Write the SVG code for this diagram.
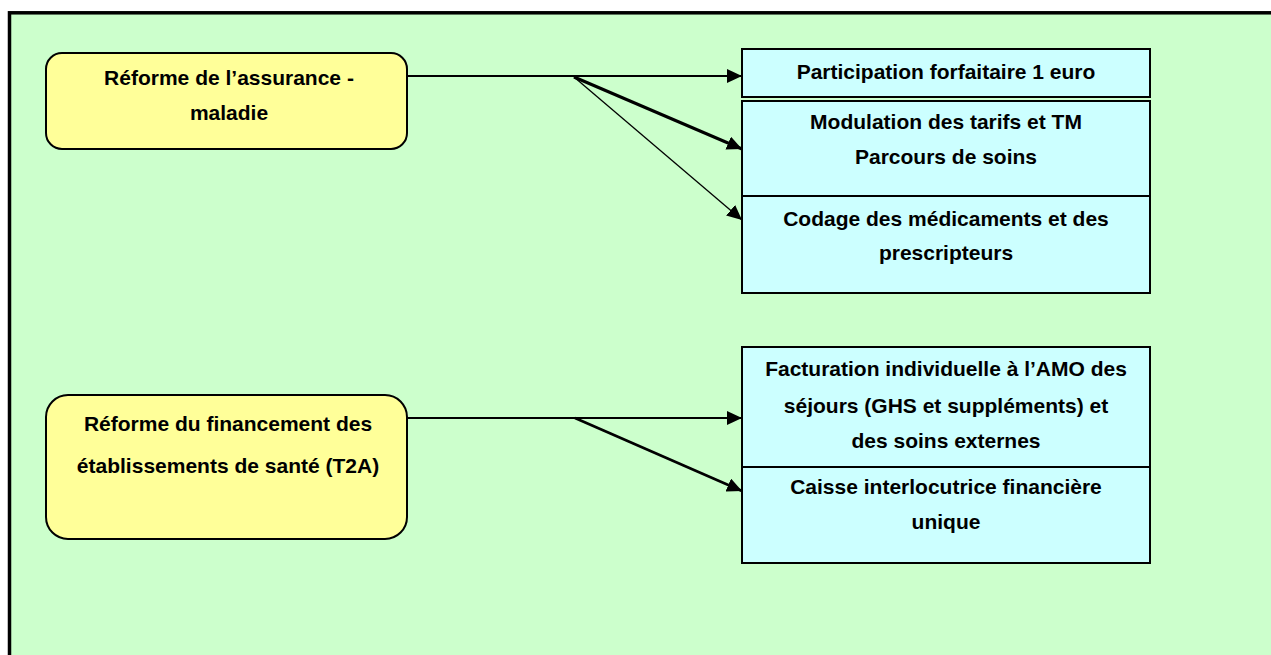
<svg xmlns="http://www.w3.org/2000/svg" width="1271" height="655" viewBox="0 0 1271 655">
  <style>
    .lbl { font-family: "Liberation Sans", Arial, sans-serif; font-weight: bold; font-size: 21px; fill: #000; text-anchor: middle; }
    .reform { fill: #FFFF99; stroke: #000; stroke-width: 2; }
    .measure { fill: #CCFFFF; stroke: #000; stroke-width: 2; }
    .link { fill: none; stroke: #000; }
  </style>
  <defs>
    <marker id="arrow" viewBox="0 0 15 14" refX="15" refY="7" markerWidth="15" markerHeight="14" markerUnits="userSpaceOnUse" orient="auto">
      <path d="M0,0 L15,7 L0,14 Z" fill="#000"/>
    </marker>
  </defs>

  <!-- page -->
  <rect x="0" y="0" width="1271" height="655" fill="#FFFFFF"/>
  <rect x="9.5" y="12.8" width="1300" height="700" fill="#CCFFCC" stroke="#000" stroke-width="3.5"/>

  <!-- connectors -->
  <g id="connectors">
    <path class="link" d="M407,76 H742" stroke-width="2" marker-end="url(#arrow)"/>
    <path class="link" d="M574,77 L742,149" stroke-width="3" marker-end="url(#arrow)"/>
    <path class="link" d="M574,77 L742,220" stroke-width="1.3" marker-end="url(#arrow)"/>
    <path class="link" d="M407,418 H742" stroke-width="2" marker-end="url(#arrow)"/>
    <path class="link" d="M575,418 L742,491" stroke-width="2.6" marker-end="url(#arrow)"/>
  </g>

  <!-- health insurance reform -->
  <g id="reforme-assurance">
    <rect class="reform" x="46" y="53" width="361" height="96" rx="16" ry="16"/>
    <text class="lbl" x="229" y="85">Réforme de l’assurance -</text>
    <text class="lbl" x="229" y="120">maladie</text>
  </g>

  <g id="participation">
    <rect class="measure" x="742" y="49" width="408" height="48"/>
    <text class="lbl" x="946" y="79">Participation forfaitaire 1 euro</text>
  </g>

  <g id="modulation">
    <rect class="measure" x="742" y="101" width="408" height="95"/>
    <text class="lbl" x="946" y="129">Modulation des tarifs et TM</text>
    <text class="lbl" x="946" y="164">Parcours de soins</text>
  </g>

  <g id="codage">
    <rect class="measure" x="742" y="196" width="408" height="97"/>
    <text class="lbl" x="946" y="226">Codage des médicaments et des</text>
    <text class="lbl" x="946" y="260">prescripteurs</text>
  </g>

  <!-- hospital funding reform -->
  <g id="reforme-financement">
    <rect class="reform" x="46" y="395" width="361" height="144" rx="22" ry="22"/>
    <text class="lbl" x="228" y="431">Réforme du financement des</text>
    <text class="lbl" x="228" y="473">établissements de santé (T2A)</text>
  </g>

  <g id="facturation">
    <rect class="measure" x="742" y="347" width="408" height="120"/>
    <text class="lbl" x="946" y="376">Facturation individuelle à l’AMO des</text>
    <text class="lbl" x="946" y="413">séjours (GHS et suppléments) et</text>
    <text class="lbl" x="946" y="448">des soins externes</text>
  </g>

  <g id="caisse">
    <rect class="measure" x="742" y="467" width="408" height="96"/>
    <text class="lbl" x="946" y="494">Caisse interlocutrice financière</text>
    <text class="lbl" x="946" y="529">unique</text>
  </g>
</svg>
